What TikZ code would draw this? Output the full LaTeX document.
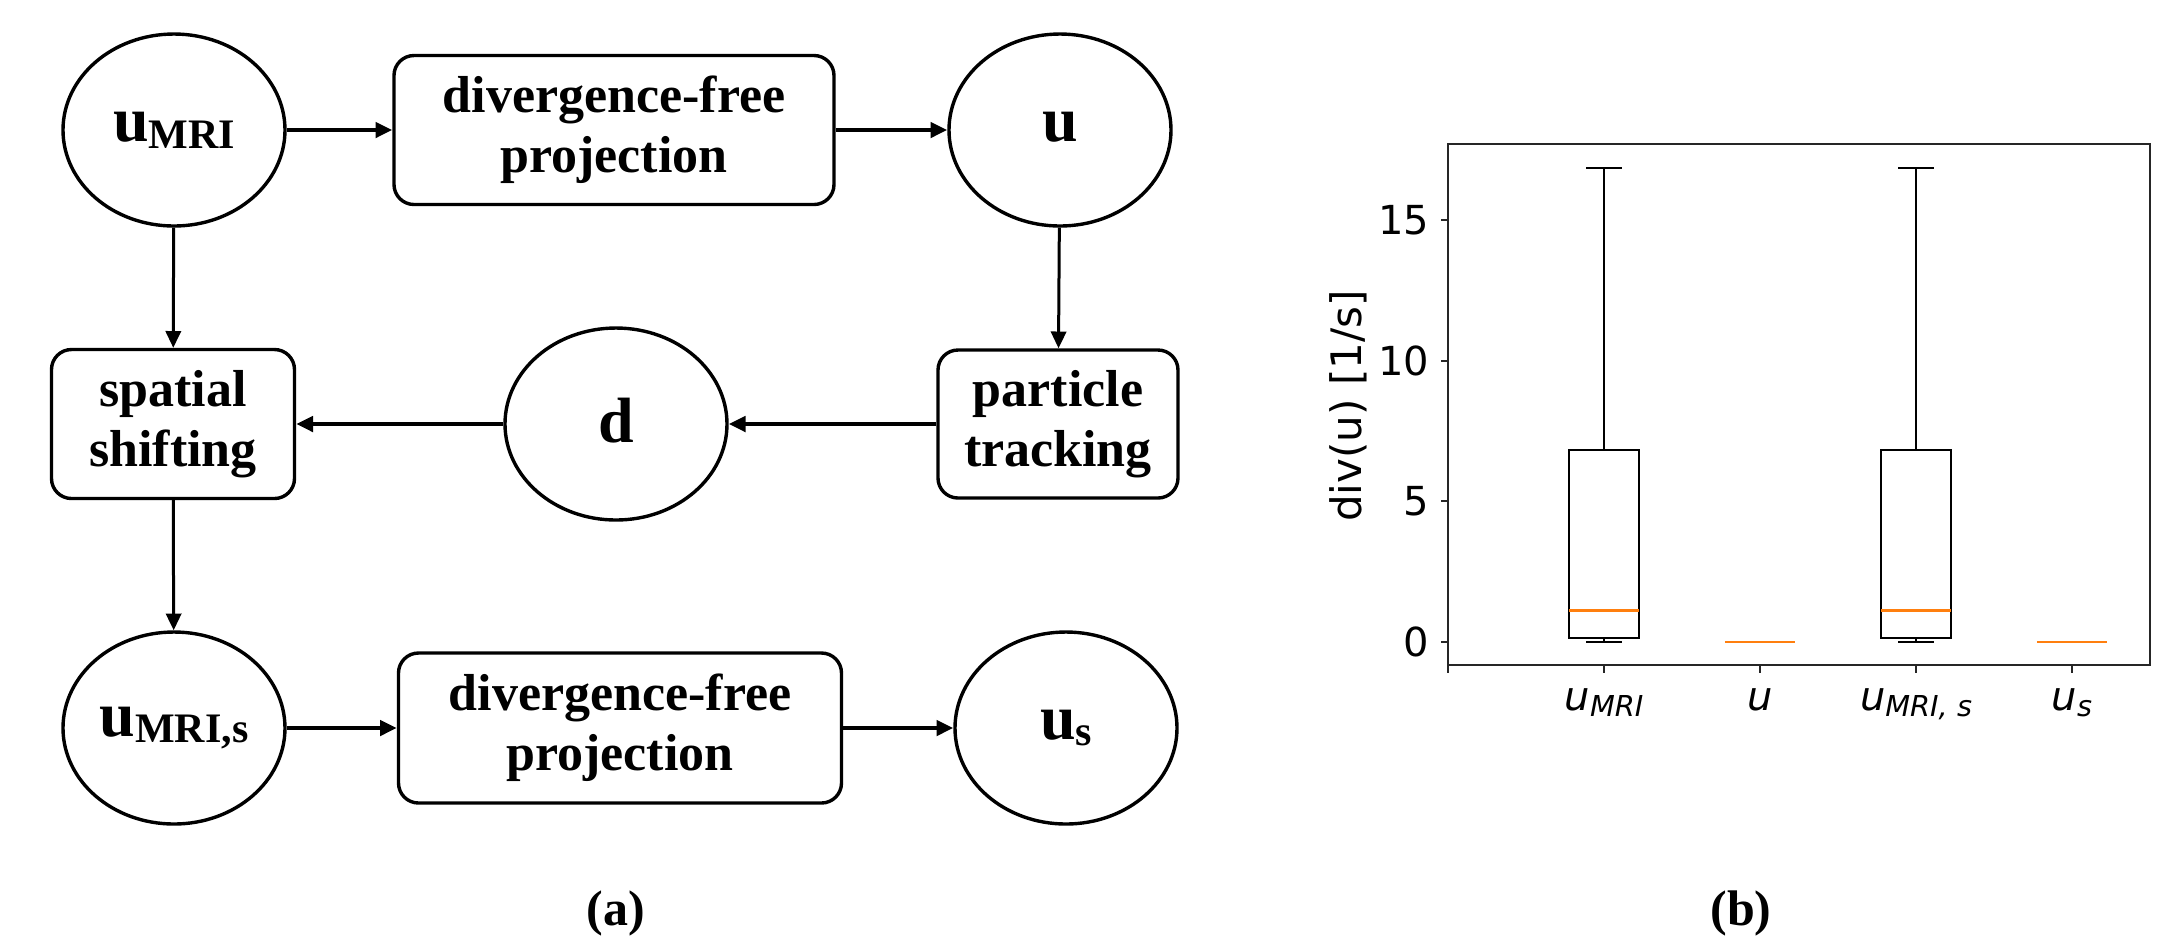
\documentclass[tikz,border=0pt]{standalone}
\usepackage{fontspec}
\setmainfont{Liberation Serif}
\newfontfamily\plotfont{DejaVu Sans}
\usetikzlibrary{shapes.geometric,arrows.meta}

\definecolor{mplorange}{HTML}{FF7F0E}

\newcommand{\velsym}[2]{{\fontsize{16}{18}\selectfont #1}\raisebox{-1.7pt}{\fontsize{10.5}{12}\selectfont #2}}
\newcommand{\ticksym}[2]{#1\raisebox{-1.5pt}{\fontsize{7.2}{8}\selectfont #2}}

\tikzset{
  state/.style={ellipse, draw, line width=0.85pt, minimum width=55.5pt, minimum height=48pt, inner sep=0pt, font=\bfseries},
  process/.style={rectangle, rounded corners=5pt, draw, line width=0.85pt, inner sep=0pt, align=center, font=\bfseries\fontsize{13}{15}\selectfont},
  flow/.style={-{Triangle[length=4.2pt,width=3.8pt]}, line width=0.75pt},
  hflow/.style={flow, line width=1pt},
  caption/.style={font=\bfseries\fontsize{12.5}{14}\selectfont},
  axisline/.style={line width=0.5pt, black!85},
  boxline/.style={line width=0.6pt, black},
  median/.style={line width=0.65pt, mplorange},
  ticklabel/.style={font=\plotfont\fontsize{10}{12}\selectfont, inner sep=0pt},
}

\begin{document}
\begin{tikzpicture}[x=0.25pt, y=-0.25pt]

      \useasboundingbox (0,0) rectangle (2176,947);

      % (a) flow chart
      \node[state] (umri) at (174,130) {\velsym{u}{MRI}};
      \node[process, minimum width=110pt, minimum height=37.25pt] (proj) at (614,130) {divergence-free\\projection};
      \node[state] (u) at (1060,130) {\velsym{u}{}};

      \node[process, minimum width=60.75pt, minimum height=37.25pt] (shift) at (173,424) {spatial\\shifting};
      \node[state] (d) at (616,424) {\velsym{d}{}};
      \node[process, minimum width=60pt, minimum height=37pt] (track) at (1058,424) {particle\\tracking};

      \node[state] (umris) at (174,728) {\velsym{u}{MRI,s}};
      \node[process, minimum width=110.75pt, minimum height=37.5pt] (projs) at (620,728) {divergence-free\\projection};
      \node[state] (us) at (1066,728) {\velsym{u}{s}};

      \draw[hflow] (umri) -- (proj);
      \draw[hflow] (proj) -- (u);
      \draw[flow] (u) -- (track);
      \draw[hflow] (track) -- (d);
      \draw[hflow] (d) -- (shift);
      \draw[flow] (umri) -- (shift);
      \draw[flow] (shift) -- (umris);
      \draw[hflow] (umris) -- (projs);
      \draw[hflow] (projs) -- (us);

      \node[caption] (capa) at (616,913) {(a)};

      % (b) box plot
      \begin{scope}[shift={(1448,642)}, x=39pt, y=7.0325pt]
        \draw[axisline] (0,-0.82) rectangle (4.5,17.7);
        \foreach \v in {0,5,10,15} {
          \draw[axisline] (0,\v) -- ++(-1.75pt,0pt);
          \node[ticklabel, anchor=east] (ytick\v) at ([xshift=-4.5pt]0,\v) {\v};
        }
        \foreach \p in {0,...,4}
          \draw[axisline] (\p,-0.82) -- ++(0pt,-2pt);

        \foreach \p in {1,3} {
          \draw[boxline] (\p-0.225,0.15) rectangle (\p+0.225,6.83);
          \draw[boxline] (\p,6.83) -- (\p,16.85);
          \draw[boxline] (\p-0.1125,16.85) -- (\p+0.1125,16.85);
          \draw[boxline] (\p,0.15) -- (\p,0);
          \draw[boxline] (\p-0.1125,0) -- (\p+0.1125,0);
          \draw[median] (\p-0.225,1.11) -- (\p+0.225,1.11);
        }
        \foreach \p in {2,4}
          \draw[median] (\p-0.225,0) -- (\p+0.225,0);

        \node[ticklabel, anchor=base, font=\plotfont\itshape\fontsize{10}{12}\selectfont] (xt1) at (1,-2.42) {\ticksym{u}{MRI}};
        \node[ticklabel, anchor=base, font=\plotfont\itshape\fontsize{10}{12}\selectfont] (xt2) at (2,-2.42) {u};
        \node[ticklabel, anchor=base, font=\plotfont\itshape\fontsize{10}{12}\selectfont] (xt3) at (3,-2.42) {\ticksym{u}{MRI, s}};
        \node[ticklabel, anchor=base, font=\plotfont\itshape\fontsize{10}{12}\selectfont] (xt4) at (4,-2.42) {\ticksym{u}{s}};
      \end{scope}

      \node[ticklabel, rotate=90, font=\plotfont\fontsize{10.5}{12}\selectfont] (ylab) at (1348,406) {div(u) [1/s]};

      \node[caption] (capb) at (1741,913) {(b)};

    \end{tikzpicture}
\end{document}
